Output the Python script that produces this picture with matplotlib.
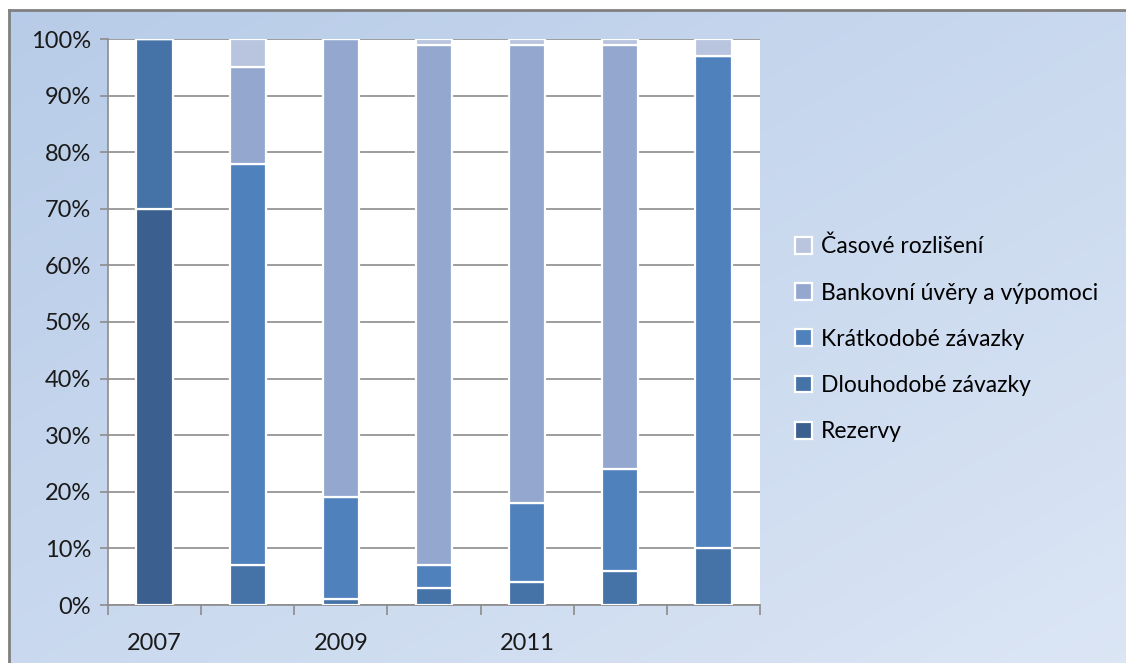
import numpy as np
import matplotlib.pyplot as plt
from matplotlib.ticker import FixedLocator

# Data (share of each item, %)
years = ['2007', '2008', '2009', '2010', '2011', '2012', '2013']
rezervy = [70, 0, 0, 0, 0, 0, 0]
dlouhodobe = [30, 7, 1, 3, 4, 6, 10]
kratkodobe = [0, 71, 18, 4, 14, 18, 87]
bankovni = [0, 17, 81, 92, 81, 75, 0]
casove = [0, 5, 0, 1, 1, 1, 3]

series = [
    ('Rezervy', rezervy, '#3B5F8E'),
    ('Dlouhodobé závazky', dlouhodobe, '#4572A7'),
    ('Krátkodobé závazky', kratkodobe, '#4F81BD'),
    ('Bankovní úvěry a výpomoci', bankovni, '#94A8CF'),
    ('Časové rozlišení', casove, '#B9C5DF'),
]

plt.rcParams['font.family'] = ['Lato', 'DejaVu Sans']
FS = 17

W, H = 1126, 663
fig = plt.figure(figsize=(W / 100, H / 100), dpi=100)
fig.patch.set_facecolor('white')

# Gradient background of the chart area (darker top-left, lighter bottom-right)
bg = fig.add_axes([9 / W, 0, 1 - 9 / W, 1 - 10 / H])
grad = np.linspace(0, 1, 256)
gx, gy = np.meshgrid(grad, grad)
g = (gx + gy) / 2
c1 = np.array([0.72, 0.80, 0.91])
c2 = np.array([0.86, 0.90, 0.96])
img = c1[None, None, :] * (1 - g[..., None]) + c2[None, None, :] * g[..., None]
bg.imshow(img, aspect='auto', extent=[0, 1, 0, 1], origin='upper')
bg.set_xticks([])
bg.set_yticks([])
for s in ['right', 'bottom']:
    bg.spines[s].set_visible(False)
for s in ['top', 'left']:
    bg.spines[s].set_color('#808080')
    bg.spines[s].set_linewidth(2)

ax = fig.add_axes([108 / W, 58 / H, 652 / W, 566 / H])
ax.set_facecolor('white')
x = np.arange(len(years))
bottom = np.zeros(len(years))
handles = []
for name, vals, color in series:
    vals = np.array(vals, dtype=float)
    b = ax.bar(x, vals, width=0.39, bottom=bottom, color=color,
               edgecolor='white', linewidth=1.6, label=name, zorder=3)
    handles.append(b)
    bottom += vals

ax.set_xlim(-0.5, len(years) - 0.5)
ax.set_ylim(0, 100)
ax.set_yticks(np.arange(0, 101, 10))
ax.set_yticklabels([f'{v}%' for v in range(0, 101, 10)], fontsize=FS, color='#1a1a1a')
ax.yaxis.grid(True, color='#8c8c8c', linewidth=1.2, zorder=0)
ax.set_axisbelow(True)

ax.set_xticks([0, 2, 4])
ax.set_xticklabels(['2007', '2009', '2011'], fontsize=FS, color='#1a1a1a')
ax.tick_params(axis='x', which='major', length=0, pad=20)
ax.xaxis.set_minor_locator(FixedLocator(np.arange(-0.5, len(years), 1)))
ax.tick_params(axis='x', which='minor', length=7, color='#8c8c8c', width=1.2)
ax.tick_params(axis='y', length=6, color='#8c8c8c', width=1.2, pad=6)

for s in ['top', 'right']:
    ax.spines[s].set_visible(False)
for s in ['left', 'bottom']:
    ax.spines[s].set_color('#8c8c8c')
    ax.spines[s].set_linewidth(1.2)

leg = fig.legend(handles[::-1], [s[0] for s in series][::-1],
                 loc='center left', bbox_to_anchor=(774 / W, 1 - 339 / H),
                 frameon=False, fontsize=16.5, labelspacing=1.1,
                 handlelength=0.75, handleheight=0.75, handletextpad=0.4)

fig.savefig('out.png', dpi=100)
